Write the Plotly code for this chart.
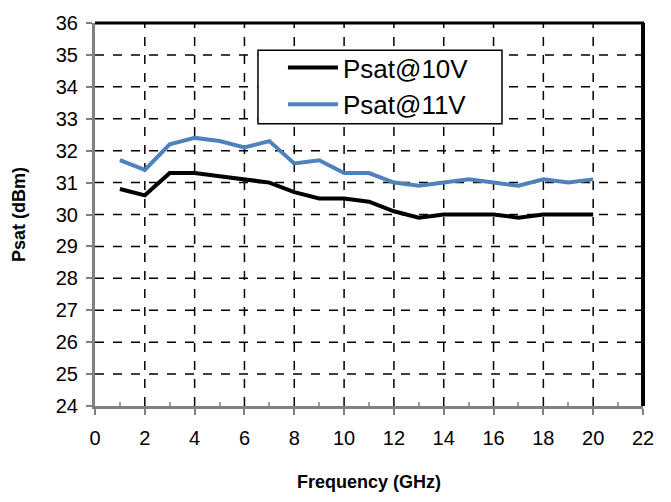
import plotly.graph_objects as go

# Saturated output power vs frequency
freq_ghz = [1, 2, 3, 4, 5, 6, 7, 8, 9, 10, 11, 12, 13, 14, 15, 16, 17, 18, 19, 20]
psat_10v = [30.8, 30.6, 31.3, 31.3, 31.2, 31.1, 31.0, 30.7, 30.5, 30.5,
            30.4, 30.1, 29.9, 30.0, 30.0, 30.0, 29.9, 30.0, 30.0, 30.0]
psat_11v = [31.7, 31.4, 32.2, 32.4, 32.3, 32.1, 32.3, 31.6, 31.7, 31.3,
            31.3, 31.0, 30.9, 31.0, 31.1, 31.0, 30.9, 31.1, 31.0, 31.1]

x_ticks = [0, 2, 4, 6, 8, 10, 12, 14, 16, 18, 20, 22]
y_ticks = list(range(24, 37))

FONT = "Liberation Sans, Arial, sans-serif"

fig = go.Figure()
fig.add_trace(go.Scatter(x=freq_ghz, y=psat_10v, mode="lines", name="Psat@10V",
                         line=dict(color="#000000", width=4)))
fig.add_trace(go.Scatter(x=freq_ghz, y=psat_11v, mode="lines", name="Psat@11V",
                         line=dict(color="#4F81BD", width=4)))

# vertical dashed grid at even frequencies (inside the frame only)
for xv in x_ticks[1:-1]:
    fig.add_shape(type="line", x0=xv, x1=xv, y0=24, y1=36, xref="x", yref="y",
                  line=dict(color="#000000", width=1.5, dash="dash"), layer="below")
# horizontal dashed grid at each dBm
for yv in y_ticks[1:-1]:
    fig.add_shape(type="line", x0=0, x1=22, y0=yv, y1=yv, xref="x", yref="y",
                  line=dict(color="#000000", width=1.5, dash="dash"), layer="below")

# top and right frame edges
fig.add_shape(type="line", x0=0, x1=1.002, y0=1, y1=1, xref="paper", yref="paper",
              line=dict(color="#000000", width=3))
fig.add_shape(type="line", x0=1, x1=1, y0=0, y1=1, xref="paper", yref="paper",
              line=dict(color="#000000", width=4))

# legend frame
fig.add_shape(type="rect", x0=0.2974, x1=0.7427, y0=0.7367, y1=0.929,
              xref="paper", yref="paper", fillcolor="#ffffff",
              line=dict(color="#000000", width=1.5), layer="above")

fig.update_xaxes(
    range=[0, 22], tickvals=x_ticks, ticks="outside", ticklen=6, tickwidth=2,
    tickcolor="#808080", showline=True, linecolor="#808080", linewidth=3,
    showgrid=False, zeroline=False, ticklabelstandoff=6,
    minor=dict(tickvals=[v for v in range(1, 22, 2)], ticks="inside", ticklen=4,
               tickwidth=1.5, tickcolor="#a0a0a0", showgrid=False),
    tickfont=dict(family=FONT, size=20, color="#000000"),
    title=dict(text="<b>Frequency (GHz)</b>", standoff=28,
               font=dict(family=FONT, size=18, color="#000000")),
)
fig.update_yaxes(
    range=[24, 36], tickvals=y_ticks, ticks="outside", ticklen=6, tickwidth=2,
    tickcolor="#808080", showline=True, linecolor="#808080", linewidth=3,
    showgrid=False, zeroline=False, ticklabelstandoff=4,
    tickfont=dict(family=FONT, size=20, color="#000000"),
    title=dict(text="<b>Psat (dBm)</b>", standoff=26,
               font=dict(family=FONT, size=18, color="#000000")),
)

fig.update_layout(
    width=671, height=502,
    margin=dict(l=95, r=28, t=14, b=93),
    plot_bgcolor="#ffffff", paper_bgcolor="#ffffff",
    showlegend=True,
    legend=dict(x=0.343, y=0.945, xanchor="left", yanchor="top",
                bgcolor="rgba(0,0,0,0)", borderwidth=0,
                font=dict(family=FONT, size=26, color="#000000"),
                tracegroupgap=0, itemwidth=50),
)

fig.write_html("out.html")
